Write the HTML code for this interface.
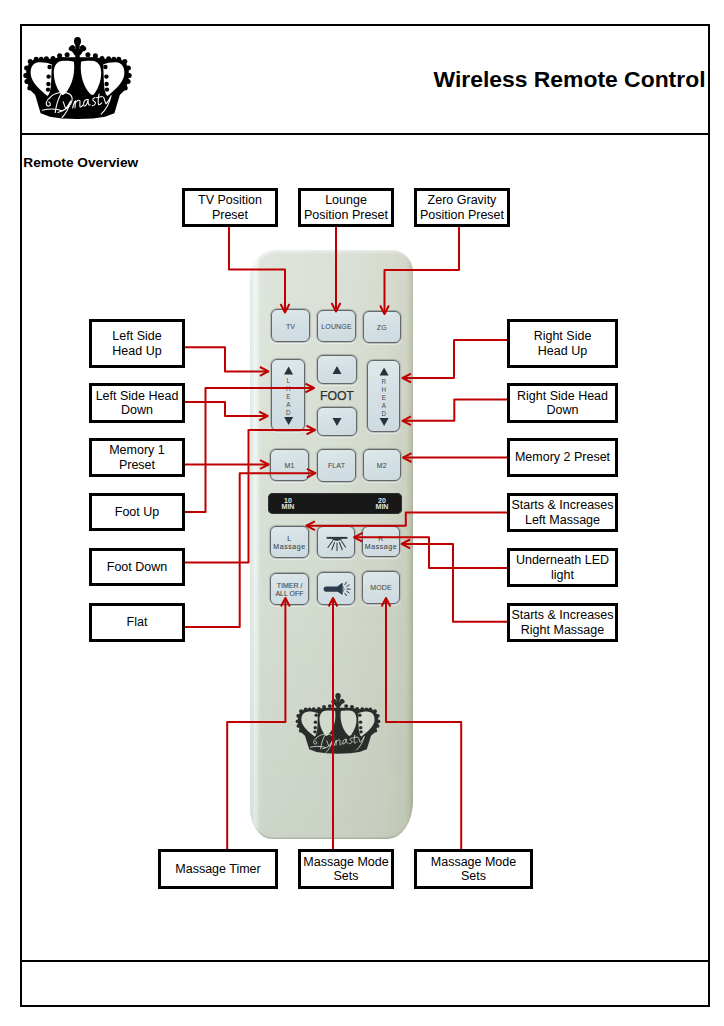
<!DOCTYPE html>
<html><head><meta charset="utf-8">
<style>
html,body{margin:0;padding:0;background:#fff;}
body{width:724px;height:1026px;position:relative;overflow:hidden;font-family:"Liberation Sans",sans-serif;}
.abs{position:absolute;}
.frame{position:absolute;left:20px;top:24px;width:690px;height:983px;border:2px solid #000;box-sizing:border-box;}
.hl{position:absolute;left:20px;width:690px;height:2px;background:#000;}
.title{position:absolute;left:433.5px;top:65.5px;font-weight:bold;font-size:22.9px;white-space:nowrap;color:#000;}
.sub{position:absolute;left:23.3px;top:155.3px;font-weight:bold;font-size:13.7px;white-space:nowrap;color:#000;}
.remote{position:absolute;left:249.5px;top:250px;width:163.5px;height:589px;border-radius:27px 21px 25px 22px / 27px 22px 38px 31px;
 background:linear-gradient(180deg,rgba(255,255,255,.16) 0%,rgba(255,255,255,0) 45%,rgba(50,70,40,.07) 100%),linear-gradient(90deg,#d3ddd8 0px,#e2ebe7 2.5px,#eef5f2 4.5px,#ebf2ee 7px,#dde4dc 9px,#d8e0d5 12px,#d5dcd1 80px,#d0d6c8 135px,#cad0bf 156px,#bec2ad 160px,#b0b49d 163px);box-shadow:inset 2px 3px 3px -1px rgba(255,255,255,.5), inset 0 -2px 2px -1px rgba(110,115,95,.45);}
.btn{position:absolute;box-sizing:border-box;border:1px solid #62676a;border-radius:6px;
 background:linear-gradient(165deg,#dfe9ec 0%,#d4e0e4 45%,#cddadf 100%);
 box-shadow:0 0 0 0.5px rgba(90,94,96,.45), 0 0 1.2px 0.5px rgba(60,60,60,.15), 0 1.5px 0.8px 0.5px rgba(255,255,255,.55);display:flex;align-items:center;justify-content:center;overflow:hidden;}
.btn .ic{position:absolute;left:-1px;top:-1px;}
.bt{font-size:7px;color:#46494b;letter-spacing:0.15px;white-space:nowrap;-webkit-text-stroke:0.05px #46494b;padding-top:1.2px;}
.bt2{font-size:7px;line-height:8px;color:#44484a;text-align:center;white-space:nowrap;-webkit-text-stroke:0.1px #44484a;padding-top:2px;}
.vl{position:absolute;left:0.5px;right:0;top:16.5px;text-align:center;font-size:6.3px;line-height:8.0px;color:#45494b;}
.strip{position:absolute;left:268px;top:492.5px;width:133.5px;height:21.5px;background:#171817;border-radius:5px;box-shadow:inset 0 0 0 1px #2e302e;}
.strip span{position:absolute;color:#e2e4e2;font-weight:bold;font-size:7px;line-height:6.2px;text-align:center;}
.foot{position:absolute;left:320px;top:388.6px;font-size:12.3px;color:#2e3234;letter-spacing:-0.1px;-webkit-text-stroke:0.25px #2e3234;}
.box{position:absolute;box-sizing:border-box;border:3px solid #000;background:#fff;display:flex;align-items:center;justify-content:center;
 font-size:12.5px;line-height:14.5px;text-align:center;color:#000;white-space:nowrap;}
svg.lines{position:absolute;left:0;top:0;}
</style></head><body>
<div class="frame"></div>
<div class="hl" style="top:133px"></div>
<div class="hl" style="top:960px"></div>
<svg class="abs" style="left:0;top:0" width="724" height="140" viewBox="0 0 724 140"><g fill="#000"><polygon points="77.5,119.0 62.0,118.6 50.0,116.8 40.6,113.2 35.2,95.0 30.6,90.6 28.0,85.0 26.3,78.0 26.2,71.0 28.3,64.5 32.0,60.5 37.0,59.3 46.0,59.0 53.0,58.8 59.6,57.0 67.0,57.2 74.8,57.2 80.2,57.2 88.0,57.2 95.4,57.0 102.0,58.8 109.0,59.0 118.0,59.3 123.0,60.5 126.7,64.5 128.8,71.0 128.7,78.0 127.0,85.0 124.4,90.6 119.8,95.0 114.4,113.2 105.0,116.8 93.0,118.6 77.5,119.0"/><rect x="75.3" y="43" width="4.4" height="16"/><ellipse cx="77.5" cy="41.2" rx="3.5" ry="4.2"/><ellipse cx="71.9" cy="48.2" rx="3.3" ry="2.7" transform="rotate(-40 71.9 48.2)"/><ellipse cx="83.1" cy="48.2" rx="3.3" ry="2.7" transform="rotate(40 83.1 48.2)"/><path d="M70.5,49 L84.5,49 L80.4,55.2 L74.6,55.2 Z"/><circle cx="67.1" cy="54.8" r="2.5"/><circle cx="59.6" cy="55.8" r="2.5"/><circle cx="53.0" cy="58.6" r="2.5"/><circle cx="46.4" cy="58.8" r="2.5"/><circle cx="41.2" cy="59.2" r="2.5"/><circle cx="36.2" cy="59.2" r="2.5"/><circle cx="30.2" cy="61.6" r="2.5"/><circle cx="26.6" cy="68.0" r="2.5"/><circle cx="25.8" cy="75.4" r="2.5"/><circle cx="26.9" cy="81.6" r="2.5"/><circle cx="29.8" cy="88.0" r="2.5"/><circle cx="87.9" cy="54.8" r="2.5"/><circle cx="95.4" cy="55.8" r="2.5"/><circle cx="102.0" cy="58.6" r="2.5"/><circle cx="108.6" cy="58.8" r="2.5"/><circle cx="113.8" cy="59.2" r="2.5"/><circle cx="118.8" cy="59.2" r="2.5"/><circle cx="124.8" cy="61.6" r="2.5"/><circle cx="128.4" cy="68.0" r="2.5"/><circle cx="129.2" cy="75.4" r="2.5"/><circle cx="128.1" cy="81.6" r="2.5"/><circle cx="125.2" cy="88.0" r="2.5"/></g><g fill="#fff"><path d="M47.6,96 C40,90 32,83 30.8,75 C29.8,67 33.5,62.6 39,62.3 C43.5,62.1 48,62.9 51.8,64.5 L51.2,80 C51,88 50,94 47.6,96 Z"/><path d="M60.6,93.8 C56,87 53.8,80 53.8,73 C53.8,65 57.5,60.9 63.5,60.8 C67.5,60.7 71.5,60.9 73.9,61.7 C74.9,70 74,84 64.6,94 C63,95.2 61.6,95.2 60.6,93.8 Z"/><path d="M107.40,96.00 C115.00,90.00 123.00,83.00 124.20,75.00 C125.20,67.00 121.50,62.60 116.00,62.30 C111.50,62.10 107.00,62.90 103.20,64.50 L103.80,80.00 C104.00,88.00 105.00,94.00 107.40,96.00 Z"/><path d="M94.40,93.80 C99.00,87.00 101.20,80.00 101.20,73.00 C101.20,65.00 97.50,60.90 91.50,60.80 C87.50,60.70 83.50,60.90 81.10,61.70 C80.10,70.00 81.00,84.00 90.40,94.00 C92.00,95.20 93.40,95.20 94.40,93.80 Z"/></g><g fill="#000"><circle cx="49.6" cy="67.0" r="2.2"/><circle cx="48.6" cy="76.6" r="2.2"/><circle cx="48.4" cy="84.0" r="2.2"/><circle cx="48.0" cy="89.6" r="2.2"/><circle cx="105.4" cy="67.0" r="2.2"/><circle cx="106.4" cy="76.6" r="2.2"/><circle cx="106.6" cy="84.0" r="2.2"/><circle cx="107.0" cy="89.6" r="2.2"/></g><g transform="rotate(-3.5 78 104) translate(43 108) scale(1.07 1.1) translate(-43.5 -108.5)"><g fill="none" stroke="#fff" stroke-width="1.0" stroke-linecap="round" stroke-linejoin="round">
<path d="M42.5,108.6 C48,107.6 55,107.6 61,110.2"/>
<path d="M60.5,95.2 C57.5,100 55.5,106 54.5,111.4"/>
<path d="M50.5,97.6 C54,93.6 64,91.8 69.2,95.6 C73.5,99.5 70,108.6 57,111.4"/>
<path d="M50.5,97.6 C46.5,99.5 45.5,104 48,105 C50.5,105.8 51.5,102.5 49,101.4"/>
<path d="M62.5,102 C63.5,104 63.5,107 64.5,108.2 C66.5,106.5 68.5,103.5 69.5,101.8 C67.5,107.5 64.5,113 60.5,116.2"/>
<path d="M71,108.2 C72,105 73,102.5 74,101.8 L73.2,108 M73.6,104.2 C75,101.5 77.6,100.8 78.2,102.2 C78.4,104 77.4,106 78,107.6 C78.8,108 79.8,107.2 80.6,106.2"/>
<path d="M85.6,101.4 C82.6,100.8 80.8,104 81.6,106.6 C82.6,108 84.6,106 86,101.4 C85.6,104 85.6,107 87.6,106.4"/>
<path d="M92.6,100.2 C89.8,100.2 89.6,102.2 91.4,103.2 C93.4,104.2 92.8,107 89.4,107.2"/>
<path d="M96.4,97 C95.4,101 94.6,105 95.4,106.6 C96.4,107.2 97.4,106.2 98.4,105.2 M93.8,100.2 L99.4,99.4"/>
<path d="M100.4,100.2 C101.4,102 101.4,105 102.4,106.2 C104.4,104.4 106.4,101.4 107.6,99.2 C105.6,106 101.6,112 97.2,115.4"/>
</g></g></svg>
<div class="title">Wireless Remote Control</div>
<div class="sub">Remote Overview</div>
<div class="remote"></div>
<div class="btn" style="left:271px;top:309px;width:39px;height:33px"><span class="bt">TV</span></div>
<div class="btn" style="left:317px;top:309.5px;width:39px;height:32.5px"><span class="bt">LOUNGE</span></div>
<div class="btn" style="left:363px;top:310.5px;width:37.5px;height:32.5px"><span class="bt">ZG</span></div>
<div class="btn" style="left:271px;top:359px;width:34px;height:72px"><svg class="ic" width="34" height="72" viewBox="0 0 34 72"><polygon points="13.100000000000001,15.5 17.6,7.5 22.1,15.5" fill="#26323c"/><polygon points="13.100000000000001,58 17.6,66 22.1,58" fill="#26323c"/></svg><div class="vl"><div>L</div><div>H</div><div>E</div><div>A</div><div>D</div></div></div>
<div class="btn" style="left:316.5px;top:355px;width:40.0px;height:29px"><svg class="ic" width="40.0" height="29"><polygon points="15.5,19.0 20.0,11.0 24.5,19.0" fill="#26323c"/></svg></div>
<div class="btn" style="left:316.5px;top:407px;width:40.0px;height:29px"><svg class="ic" width="40.0" height="29"><polygon points="15.5,11.0 20.0,19.0 24.5,11.0" fill="#26323c"/></svg></div>
<div class="btn" style="left:367px;top:360px;width:33px;height:72px"><svg class="ic" width="33" height="72" viewBox="0 0 33 72"><polygon points="12.600000000000001,15.5 17.1,7.5 21.6,15.5" fill="#26323c"/><polygon points="12.600000000000001,58 17.1,66 21.6,58" fill="#26323c"/></svg><div class="vl"><div>R</div><div>H</div><div>E</div><div>A</div><div>D</div></div></div>
<div class="btn" style="left:270px;top:449px;width:39px;height:32px"><span class="bt">M1</span></div>
<div class="btn" style="left:317px;top:448.5px;width:39px;height:33.0px"><span class="bt">FLAT</span></div>
<div class="btn" style="left:363px;top:449px;width:37.5px;height:32px"><span class="bt">M2</span></div>
<div class="btn" style="left:270px;top:526px;width:39px;height:32px"><span class="bt2" style="letter-spacing:0.55px">L<br>Massage</span></div>
<div class="btn" style="left:316.5px;top:526px;width:38.5px;height:32px"><svg class="ic" width="38.5" height="32" viewBox="0 0 38.5 32"><rect x="9.7" y="10.9" width="20.6" height="1.9" fill="#28323a"/><path d="M15.1,12.6 A4.9,2.1 0 0 0 24.9,12.6 Z" fill="#28323a"/><g stroke="#353c42" stroke-width="1.05" stroke-linecap="round"><line x1="15.7" y1="14.8" x2="10.9" y2="21.5"/><line x1="17.5" y1="16.5" x2="14.8" y2="23.7"/><line x1="20" y1="17" x2="20" y2="24.6"/><line x1="22.5" y1="16.5" x2="25.2" y2="23.7"/><line x1="24.3" y1="14.8" x2="28.6" y2="21.2"/></g></svg></div>
<div class="btn" style="left:362px;top:526px;width:38px;height:31px"><span class="bt2" style="letter-spacing:0.55px">R<br>Massage</span></div>
<div class="btn" style="left:270px;top:572.5px;width:39px;height:32.0px"><span class="bt2">TIMER /<br>ALL OFF</span></div>
<div class="btn" style="left:316.5px;top:572px;width:38.5px;height:33px"><svg class="ic" width="38.5" height="33" viewBox="0 0 38.5 33"><rect x="6.6" y="14.5" width="16" height="5.2" rx="2.6" fill="#2c3b4e"/><path d="M20.4,14.6 L24.8,11 Q25.7,10.6 25.7,11.6 L25.7,22 Q25.7,23 24.8,22.6 L20.4,19.6 Z" fill="#2c3b4e"/><path d="M25.7,14.3 Q28.6,17.1 25.7,20" fill="none" stroke="#3a4650" stroke-width="0.7"/><g stroke="#353c42" stroke-width="1.0" stroke-linecap="round"><line x1="27.9" y1="12.7" x2="29.4" y2="10.2"/><line x1="29.7" y1="14.5" x2="32.2" y2="12.8"/><line x1="29.9" y1="17.1" x2="33.1" y2="17.1"/><line x1="29.7" y1="19.2" x2="32.2" y2="20.9"/><line x1="27.9" y1="21.3" x2="29.4" y2="23.7"/></g></svg></div>
<div class="btn" style="left:362px;top:571px;width:38px;height:32.5px"><span class="bt">MODE</span></div>
<div class="strip"><span style="left:12px;top:5px;width:16px">10<br>MIN</span><span style="left:106px;top:5px;width:16px">20<br>MIN</span></div>
<div class="foot">FOOT</div>
<svg class="abs" style="left:0;top:0" width="724" height="1026" viewBox="0 0 724 1026"><g transform="translate(277.47,665.48) scale(0.781,0.741)"><g fill="#2b2d2b"><polygon points="77.5,119.0 62.0,118.6 50.0,116.8 40.6,113.2 35.2,95.0 30.6,90.6 28.0,85.0 26.3,78.0 26.2,71.0 28.3,64.5 32.0,60.5 37.0,59.3 46.0,59.0 53.0,58.8 59.6,57.0 67.0,57.2 74.8,57.2 80.2,57.2 88.0,57.2 95.4,57.0 102.0,58.8 109.0,59.0 118.0,59.3 123.0,60.5 126.7,64.5 128.8,71.0 128.7,78.0 127.0,85.0 124.4,90.6 119.8,95.0 114.4,113.2 105.0,116.8 93.0,118.6 77.5,119.0"/><rect x="75.3" y="43" width="4.4" height="16"/><ellipse cx="77.5" cy="41.2" rx="3.5" ry="4.2"/><ellipse cx="71.9" cy="48.2" rx="3.3" ry="2.7" transform="rotate(-40 71.9 48.2)"/><ellipse cx="83.1" cy="48.2" rx="3.3" ry="2.7" transform="rotate(40 83.1 48.2)"/><path d="M70.5,49 L84.5,49 L80.4,55.2 L74.6,55.2 Z"/><circle cx="67.1" cy="54.8" r="2.5"/><circle cx="59.6" cy="55.8" r="2.5"/><circle cx="53.0" cy="58.6" r="2.5"/><circle cx="46.4" cy="58.8" r="2.5"/><circle cx="41.2" cy="59.2" r="2.5"/><circle cx="36.2" cy="59.2" r="2.5"/><circle cx="30.2" cy="61.6" r="2.5"/><circle cx="26.6" cy="68.0" r="2.5"/><circle cx="25.8" cy="75.4" r="2.5"/><circle cx="26.9" cy="81.6" r="2.5"/><circle cx="29.8" cy="88.0" r="2.5"/><circle cx="87.9" cy="54.8" r="2.5"/><circle cx="95.4" cy="55.8" r="2.5"/><circle cx="102.0" cy="58.6" r="2.5"/><circle cx="108.6" cy="58.8" r="2.5"/><circle cx="113.8" cy="59.2" r="2.5"/><circle cx="118.8" cy="59.2" r="2.5"/><circle cx="124.8" cy="61.6" r="2.5"/><circle cx="128.4" cy="68.0" r="2.5"/><circle cx="129.2" cy="75.4" r="2.5"/><circle cx="128.1" cy="81.6" r="2.5"/><circle cx="125.2" cy="88.0" r="2.5"/></g><g fill="#d2d9cd"><path d="M47.6,96 C40,90 32,83 30.8,75 C29.8,67 33.5,62.6 39,62.3 C43.5,62.1 48,62.9 51.8,64.5 L51.2,80 C51,88 50,94 47.6,96 Z"/><path d="M60.6,93.8 C56,87 53.8,80 53.8,73 C53.8,65 57.5,60.9 63.5,60.8 C67.5,60.7 71.5,60.9 73.9,61.7 C74.9,70 74,84 64.6,94 C63,95.2 61.6,95.2 60.6,93.8 Z"/><path d="M107.40,96.00 C115.00,90.00 123.00,83.00 124.20,75.00 C125.20,67.00 121.50,62.60 116.00,62.30 C111.50,62.10 107.00,62.90 103.20,64.50 L103.80,80.00 C104.00,88.00 105.00,94.00 107.40,96.00 Z"/><path d="M94.40,93.80 C99.00,87.00 101.20,80.00 101.20,73.00 C101.20,65.00 97.50,60.90 91.50,60.80 C87.50,60.70 83.50,60.90 81.10,61.70 C80.10,70.00 81.00,84.00 90.40,94.00 C92.00,95.20 93.40,95.20 94.40,93.80 Z"/></g><g fill="#2b2d2b"><circle cx="49.6" cy="67.0" r="2.2"/><circle cx="48.6" cy="76.6" r="2.2"/><circle cx="48.4" cy="84.0" r="2.2"/><circle cx="48.0" cy="89.6" r="2.2"/><circle cx="105.4" cy="67.0" r="2.2"/><circle cx="106.4" cy="76.6" r="2.2"/><circle cx="106.6" cy="84.0" r="2.2"/><circle cx="107.0" cy="89.6" r="2.2"/></g><g transform="rotate(-3.5 78 104) translate(43 108) scale(1.07 1.1) translate(-43.5 -108.5)"><g fill="none" stroke="#d2d9cd" stroke-width="1.0" stroke-linecap="round" stroke-linejoin="round">
<path d="M42.5,108.6 C48,107.6 55,107.6 61,110.2"/>
<path d="M60.5,95.2 C57.5,100 55.5,106 54.5,111.4"/>
<path d="M50.5,97.6 C54,93.6 64,91.8 69.2,95.6 C73.5,99.5 70,108.6 57,111.4"/>
<path d="M50.5,97.6 C46.5,99.5 45.5,104 48,105 C50.5,105.8 51.5,102.5 49,101.4"/>
<path d="M62.5,102 C63.5,104 63.5,107 64.5,108.2 C66.5,106.5 68.5,103.5 69.5,101.8 C67.5,107.5 64.5,113 60.5,116.2"/>
<path d="M71,108.2 C72,105 73,102.5 74,101.8 L73.2,108 M73.6,104.2 C75,101.5 77.6,100.8 78.2,102.2 C78.4,104 77.4,106 78,107.6 C78.8,108 79.8,107.2 80.6,106.2"/>
<path d="M85.6,101.4 C82.6,100.8 80.8,104 81.6,106.6 C82.6,108 84.6,106 86,101.4 C85.6,104 85.6,107 87.6,106.4"/>
<path d="M92.6,100.2 C89.8,100.2 89.6,102.2 91.4,103.2 C93.4,104.2 92.8,107 89.4,107.2"/>
<path d="M96.4,97 C95.4,101 94.6,105 95.4,106.6 C96.4,107.2 97.4,106.2 98.4,105.2 M93.8,100.2 L99.4,99.4"/>
<path d="M100.4,100.2 C101.4,102 101.4,105 102.4,106.2 C104.4,104.4 106.4,101.4 107.6,99.2 C105.6,106 101.6,112 97.2,115.4"/>
</g></g></g></svg>
<svg class="lines" width="724" height="1026" viewBox="0 0 724 1026" fill="none" stroke="#c00000" stroke-width="2" stroke-linejoin="round">
<polyline points="229,227 229,269.5 285,269.5 285,312.5"/>
<polyline points="280.6,304.0 285,312.5 289.4,304.0"/>
<polyline points="336,227 336,311.5"/>
<polyline points="331.6,303.0 336,311.5 340.4,303.0"/>
<polyline points="459,227 459,270 384.5,270 384.5,314"/>
<polyline points="380.1,305.5 384.5,314 388.9,305.5"/>
<polyline points="185,347.3 225,347.3 225,371.4 268.4,371.4"/>
<polyline points="259.9,367.0 268.4,371.4 259.9,375.79999999999995"/>
<polyline points="185,512 205.5,512 205.5,388 314,388"/>
<polyline points="305.5,383.6 314,388 305.5,392.4"/>
<polyline points="185,402 225,402 225,416 267.7,416"/>
<polyline points="259.2,411.6 267.7,416 259.2,420.4"/>
<polyline points="185,562.4 248.5,562.4 248.5,430 315,430"/>
<polyline points="306.5,425.6 315,430 306.5,434.4"/>
<polyline points="185,464.5 268.6,464.5"/>
<polyline points="260.1,460.1 268.6,464.5 260.1,468.9"/>
<polyline points="185,627 239.7,627 239.7,473.2 315.4,473.2"/>
<polyline points="306.9,468.8 315.4,473.2 306.9,477.59999999999997"/>
<polyline points="507,340 454,340 454,378 402.5,378"/>
<polyline points="411.0,373.6 402.5,378 411.0,382.4"/>
<polyline points="507,399.6 454.3,399.6 454.3,420.8 402.5,420.8"/>
<polyline points="411.0,416.40000000000003 402.5,420.8 411.0,425.2"/>
<polyline points="507,457.6 403,457.6"/>
<polyline points="411.5,453.20000000000005 403,457.6 411.5,462.0"/>
<polyline points="507,512.4 405.8,512.4 405.8,525.7 306.4,525.7"/>
<polyline points="314.9,521.3000000000001 306.4,525.7 314.9,530.1"/>
<polyline points="507,568 429,568 429,537.3 354,537.3"/>
<polyline points="362.5,532.9 354,537.3 362.5,541.6999999999999"/>
<polyline points="507,621.8 453,621.8 453,543.9 401.6,543.9"/>
<polyline points="410.1,539.5 401.6,543.9 410.1,548.3"/>
<polyline points="227.2,849 227.2,722 285.4,722 285.4,598"/>
<polyline points="281.0,606.5 285.4,598 289.79999999999995,606.5"/>
<polyline points="333,849 333,598"/>
<polyline points="328.6,606.5 333,598 337.4,606.5"/>
<polyline points="461.2,849 461.2,722 386,722 386,598"/>
<polyline points="381.6,606.5 386,598 390.4,606.5"/>
</svg>
<div class="box" style="left:182px;top:188px;width:96px;height:39px"><div>TV Position<br>Preset</div></div>
<div class="box" style="left:298px;top:188px;width:96px;height:39px"><div>Lounge<br>Position Preset</div></div>
<div class="box" style="left:414px;top:188px;width:96px;height:39px"><div>Zero Gravity<br>Position Preset</div></div>
<div class="box" style="left:89px;top:319px;width:96px;height:49px"><div>Left Side<br>Head Up</div></div>
<div class="box" style="left:89px;top:383px;width:96px;height:40px"><div>Left Side Head<br>Down</div></div>
<div class="box" style="left:89px;top:438px;width:96px;height:39px"><div>Memory 1<br>Preset</div></div>
<div class="box" style="left:89px;top:493px;width:96px;height:38px"><div>Foot Up</div></div>
<div class="box" style="left:89px;top:548px;width:96px;height:38px"><div>Foot Down</div></div>
<div class="box" style="left:89px;top:603px;width:96px;height:39px"><div>Flat</div></div>
<div class="box" style="left:507px;top:319px;width:111px;height:49px"><div>Right Side<br>Head Up</div></div>
<div class="box" style="left:507px;top:383px;width:111px;height:40px"><div>Right Side Head<br>Down</div></div>
<div class="box" style="left:507px;top:438px;width:111px;height:39px"><div>Memory 2 Preset</div></div>
<div class="box" style="left:507px;top:493px;width:111px;height:39px"><div>Starts &amp; Increases<br>Left Massage</div></div>
<div class="box" style="left:507px;top:548px;width:111px;height:39px"><div>Underneath LED<br>light</div></div>
<div class="box" style="left:507px;top:603px;width:111px;height:39px"><div>Starts &amp; Increases<br>Right Massage</div></div>
<div class="box" style="left:158px;top:849px;width:120px;height:40px"><div>Massage Timer</div></div>
<div class="box" style="left:298px;top:849px;width:96px;height:40px"><div>Massage Mode<br>Sets</div></div>
<div class="box" style="left:414px;top:849px;width:119px;height:40px"><div>Massage Mode<br>Sets</div></div>
</body></html>
